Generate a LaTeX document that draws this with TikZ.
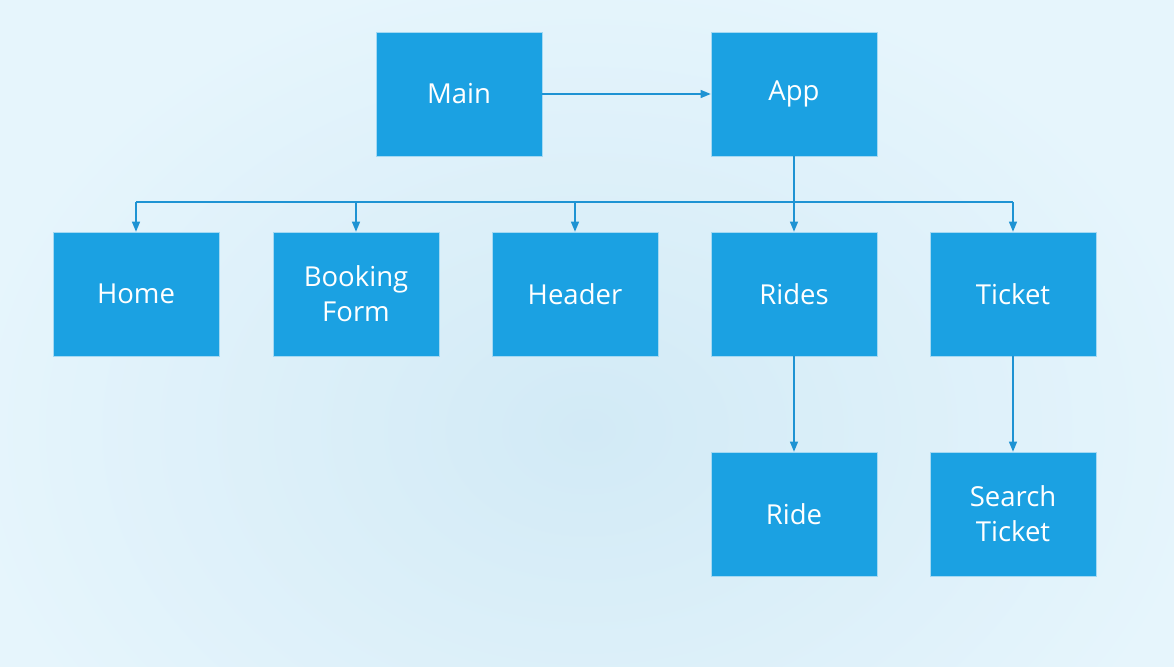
\documentclass[tikz,border=0pt]{standalone}
\usepackage{fontspec}
\setmainfont{Open Sans}
\usepackage[HTML]{xcolor}
\usetikzlibrary{positioning, arrows.meta}
\definecolor{boxblue}{HTML}{1BA1E2}
\definecolor{lineblue}{HTML}{1E93D3}
\definecolor{bgin}{HTML}{D2EAF6}
\definecolor{bgout}{HTML}{E6F5FC}

\begin{document}
\begin{tikzpicture}[x=1pt, y=-1pt,
  comp/.style={rectangle, fill=boxblue, draw=white!60!boxblue, line width=0.6pt,
    minimum width=166pt, minimum height=124pt, inner sep=0pt,
    text=white, font=\fontsize{27.5}{35}\selectfont, align=center},
  link/.style={lineblue, line width=1.2pt, -{Triangle[length=10pt,width=8pt]}}]
% background
\useasboundingbox (0,0) rectangle (1174,666);
\fill[bgout] (0,0) rectangle (1174,666);
\begin{scope}
\clip (0,0) rectangle (1174,666);
\shade[inner color=bgin, outer color=bgout] (-40,-40) rectangle (1214,900);
\end{scope}

% top row
\node[comp] (main) at (459,94) {Main};
\node[comp] (app) at (794,94) {App};

% children of App
\node[comp] (home) at (136,294) {Home};
\node[comp] (booking) at (356,294) {Booking\\Form};
\node[comp] (header) at (575,294) {Header};
\node[comp] (rides) at (794,294) {Rides};
\node[comp] (ticket) at (1013,294) {Ticket};

% bottom row
\node[comp] (ride) at (794,514) {Ride};
\node[comp] (search) at (1013,514) {Search\\Ticket};

% connectors
\coordinate (bus) at (794,202);
\draw[link] (main) -- (app);
\draw[lineblue, line width=1.2pt] (app.south) -- (bus);
\draw[lineblue, line width=1.2pt] (home.north |- bus) -- (ticket.north |- bus);
\foreach \c in {home, booking, header, rides, ticket}
  \draw[link] (\c.north |- bus) -- (\c.north);
\draw[link] (rides) -- (ride);
\draw[link] (ticket) -- (search);
\end{tikzpicture}
\end{document}
